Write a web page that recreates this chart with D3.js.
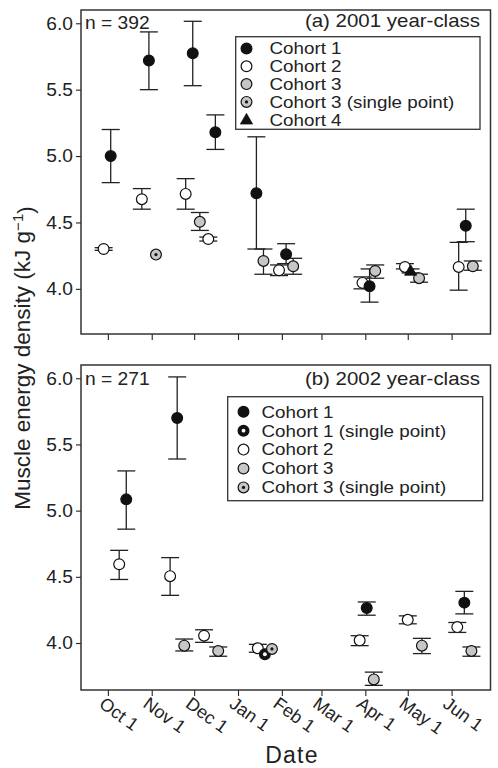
<!DOCTYPE html>
<html>
<head>
<meta charset="utf-8">
<script src="https://cdn.jsdelivr.net/npm/d3@7"></script>
<style>
  html, body { margin: 0; padding: 0; background: #fff; }
  svg { display: block; font-family: "Liberation Sans", Arial, Helvetica, sans-serif; }
</style>
</head>
<body>
<svg id="chart" width="498" height="768"></svg>
<script>
// ---- Data: mean muscle energy density (kJ g^-1) with error limits, by sampling date ----
// 2001 year-class
const a2001Cohort1 = [
  { date: "10-03", mean: 5.00,  lo: 4.80,  hi: 5.20 },
  { date: "10-30", mean: 5.72,  lo: 5.50,  hi: 5.935 },
  { date: "11-30", mean: 5.775, lo: 5.53,  hi: 6.015 },
  { date: "12-16", mean: 5.18,  lo: 5.05,  hi: 5.31 },
  { date: "01-14", mean: 4.72,  lo: 4.30,  hi: 5.145 },
  { date: "02-04", mean: 4.26,  lo: 4.19,  hi: 4.34 },
  { date: "04-04", mean: 4.02,  lo: 3.90,  hi: 4.15 },
  { date: "06-11", mean: 4.475, lo: 4.355, hi: 4.60 }
];
const a2001Cohort2 = [
  { date: "09-28", mean: 4.30,  lo: 4.29,  hi: 4.31 },
  { date: "10-25", mean: 4.675, lo: 4.60,  hi: 4.755 },
  { date: "11-25", mean: 4.715, lo: 4.60,  hi: 4.83 },
  { date: "12-11", mean: 4.375, lo: 4.36,  hi: 4.39 },
  { date: "01-30", mean: 4.14,  lo: 4.10,  hi: 4.18 },
  { date: "03-30", mean: 4.045, lo: 4.00,  hi: 4.09 },
  { date: "04-29", mean: 4.165, lo: 4.15,  hi: 4.19 },
  { date: "06-06", mean: 4.165, lo: 3.99,  hi: 4.35 }
];
const a2001Cohort3 = [
  { date: "12-05", mean: 4.505, lo: 4.44,  hi: 4.575 },
  { date: "01-19", mean: 4.21,  lo: 4.11,  hi: 4.30 },
  { date: "02-09", mean: 4.17,  lo: 4.11,  hi: 4.23 },
  { date: "04-08", mean: 4.135, lo: 4.08,  hi: 4.18 },
  { date: "05-09", mean: 4.08,  lo: 4.05,  hi: 4.11 },
  { date: "06-16", mean: 4.17,  lo: 4.14,  hi: 4.21 }
];
const a2001Cohort3Single = [
  { date: "11-04", mean: 4.258 }
];
const a2001Cohort4 = [
  { date: "05-03", mean: 4.135, lo: 4.12,  hi: 4.15 }
];

// 2002 year-class
const b2002Cohort1 = [
  { date: "10-14", mean: 5.085, lo: 4.86,  hi: 5.30 },
  { date: "11-19", mean: 5.70,  lo: 5.39,  hi: 6.01 },
  { date: "04-02", mean: 4.265, lo: 4.21,  hi: 4.31 },
  { date: "06-10", mean: 4.305, lo: 4.22,  hi: 4.39 }
];
const b2002Cohort1Single = [
  { date: "01-20", mean: 3.915 }
];
const b2002Cohort2 = [
  { date: "10-09", mean: 4.595, lo: 4.48,  hi: 4.70 },
  { date: "11-14", mean: 4.505, lo: 4.36,  hi: 4.645 },
  { date: "12-08", mean: 4.055, lo: 4.005, hi: 4.10 },
  { date: "01-15", mean: 3.96,  lo: 3.93,  hi: 3.99 },
  { date: "03-28", mean: 4.02,  lo: 3.98,  hi: 4.055 },
  { date: "05-01", mean: 4.175, lo: 4.145, hi: 4.205 },
  { date: "06-05", mean: 4.12,  lo: 4.08,  hi: 4.155 }
];
const b2002Cohort3 = [
  { date: "11-24", mean: 3.98,  lo: 3.94,  hi: 4.03 },
  { date: "12-18", mean: 3.94,  lo: 3.90,  hi: 3.97 },
  { date: "04-07", mean: 3.725, lo: 3.68,  hi: 3.78 },
  { date: "05-11", mean: 3.98,  lo: 3.92,  hi: 4.035 },
  { date: "06-15", mean: 3.94,  lo: 3.90,  hi: 3.97 }
];
const b2002Cohort3Single = [
  { date: "01-25", mean: 3.955 }
];

// Axis ticks
const monthTickDates = ["10-01", "11-01", "12-01", "01-01", "02-01", "03-01", "04-01", "05-01", "06-01"];
const monthTickLabels = ["Oct 1", "Nov 1", "Dec 1", "Jan 1", "Feb 1", "Mar 1", "Apr 1", "May 1", "Jun 1"];
const energyTicks = [4.0, 4.5, 5.0, 5.5, 6.0];

// Seasons run Sep-Jun; place autumn months in the first year, the rest in the next.
function seasonDate(md) {
  const [m, d] = md.split("-").map(Number);
  return new Date(m >= 8 ? 2001 : 2002, m - 1, d, 12);
}

const svg = d3.select("#chart");
const INK = "#222";
const GREY = "#c6c6c6";
const left = 81, right = 490.5;

const x = d3.scaleTime()
  .domain([new Date(2001, 8, 12, 12), new Date(2002, 5, 29, 0)])
  .range([left, right]);

// Text set in a slightly wide face: drawn at (px, py) and stretched horizontally.
function wideText(g, px, py, str, size, stretch, anchor) {
  return g.append("text")
    .attr("transform", `translate(${px},${py}) scale(${stretch},1)`)
    .attr("text-anchor", anchor || "start")
    .attr("font-size", size).attr("fill", INK)
    .text(str);
}

function drawMarker(g, kind, cx, cy) {
  const r = 5.4;
  if (kind === "triangle") {
    g.append("path")
      .attr("d", d3.symbol().type(d3.symbolTriangle).size(64)())
      .attr("transform", `translate(${cx},${cy + 0.8})`)
      .attr("fill", "#111").attr("stroke", "#111").attr("stroke-width", 0.8);
    return;
  }
  const fill = kind === "filled" || kind === "filledSingle" ? "#111"
             : kind === "open" ? "#fff" : GREY;
  g.append("circle").attr("cx", cx).attr("cy", cy).attr("r", r)
    .attr("fill", fill).attr("stroke", "#111").attr("stroke-width", 1.2);
  if (kind === "greySingle") {
    g.append("circle").attr("cx", cx).attr("cy", cy).attr("r", 1.6).attr("fill", "#111");
  }
  if (kind === "filledSingle") {
    g.append("circle").attr("cx", cx).attr("cy", cy).attr("r", 1.9).attr("fill", "#fff");
  }
}

function drawPanel(cfg) {
  const { top, bottom, yDomain, series, title, nText, nDy, titleDy, legend, showDates } = cfg;
  const y = d3.scaleLinear().domain(yDomain).range([bottom, top]);
  const g = svg.append("g");

  // y axis
  const yAxis = g.append("g").attr("transform", `translate(${left},0)`)
    .call(d3.axisLeft(y).tickValues(energyTicks).tickFormat("").tickSize(5));
  yAxis.select(".domain").remove();
  yAxis.selectAll("line").attr("stroke", INK).attr("stroke-width", 1.1);
  energyTicks.forEach(v => {
    wideText(g, left - 8, y(v), d3.format(".1f")(v), 17.6, 1.09, "end").attr("dy", "0.36em");
  });

  // x axis
  const xAxis = g.append("g").attr("transform", `translate(0,${bottom})`)
    .call(d3.axisBottom(x).tickValues(monthTickDates.map(seasonDate))
      .tickFormat("").tickSize(6));
  xAxis.select(".domain").remove();
  xAxis.selectAll("line").attr("stroke", INK).attr("stroke-width", 1.1);

  if (showDates) {
    g.append("g").selectAll("text")
      .data(monthTickDates.map((d, i) => ({ date: seasonDate(d), label: monthTickLabels[i] })))
      .join("text")
      .attr("transform", d => `translate(${x(d.date) - 1.5},${bottom + 5}) rotate(36)`)
      .attr("dy", "0.78em")
      .attr("font-size", 18)
      .attr("fill", INK)
      .text(d => d.label);
  }

  // frame
  g.append("rect").attr("x", left).attr("y", top)
    .attr("width", right - left).attr("height", bottom - top)
    .attr("fill", "none").attr("stroke", "#333").attr("stroke-width", 1.5);

  // error bars
  const cap = 9;
  series.forEach(s => {
    s.data.filter(d => d.lo !== undefined).forEach(d => {
      const cx = x(seasonDate(d.date));
      const eg = g.append("g").attr("stroke", INK).attr("stroke-width", 1.3);
      eg.append("line").attr("x1", cx).attr("x2", cx).attr("y1", y(d.lo)).attr("y2", y(d.hi));
      eg.append("line").attr("x1", cx - cap).attr("x2", cx + cap).attr("y1", y(d.lo)).attr("y2", y(d.lo));
      eg.append("line").attr("x1", cx - cap).attr("x2", cx + cap).attr("y1", y(d.hi)).attr("y2", y(d.hi));
    });
  });

  // points
  series.forEach(s => {
    s.data.forEach(d => drawMarker(g, s.kind, x(seasonDate(d.date)), y(d.mean)));
  });

  // panel texts
  wideText(g, left + 4, top + nDy, nText, 17.8, 1.08);
  wideText(g, 480, top + titleDy, title, 17.8, 1.15, "end");

  // legend
  const lg = g.append("g");
  lg.append("rect").attr("x", legend.x0).attr("y", legend.y0)
    .attr("width", legend.x1 - legend.x0).attr("height", legend.y1 - legend.y0)
    .attr("fill", "#fff").attr("stroke", "#333").attr("stroke-width", 1.3);
  legend.items.forEach((it, i) => {
    const cy = legend.firstY + i * legend.step;
    drawMarker(lg, it.kind, legend.markerX, cy);
    wideText(lg, legend.textX, cy, it.label, 16.2, 1.16).attr("dy", "0.36em");
  });
}

drawPanel({
  top: 10, bottom: 334, yDomain: [3.66, 6.1],
  title: "(a) 2001 year-class", nText: "n = 392", nDy: 19, titleDy: 16.5, showDates: false,
  series: [
    { kind: "open", data: a2001Cohort2 },
    { kind: "filled", data: a2001Cohort1 },
    { kind: "grey", data: a2001Cohort3 },
    { kind: "greySingle", data: a2001Cohort3Single },
    { kind: "triangle", data: a2001Cohort4 }
  ],
  legend: {
    x0: 235.7, y0: 36.7, x1: 480, y1: 129.3, markerX: 246.5, textX: 269.5,
    firstY: 48.5, step: 17.8,
    items: [
      { kind: "filled", label: "Cohort 1" },
      { kind: "open", label: "Cohort 2" },
      { kind: "grey", label: "Cohort 3" },
      { kind: "greySingle", label: "Cohort 3 (single point)" },
      { kind: "triangle", label: "Cohort 4" }
    ]
  }
});

drawPanel({
  top: 365, bottom: 690, yDomain: [3.645, 6.1],
  title: "(b) 2002 year-class", nText: "n = 271", nDy: 19.5, titleDy: 19.5, showDates: true,
  series: [
    { kind: "open", data: b2002Cohort2 },
    { kind: "filled", data: b2002Cohort1 },
    { kind: "filledSingle", data: b2002Cohort1Single },
    { kind: "grey", data: b2002Cohort3 },
    { kind: "greySingle", data: b2002Cohort3Single }
  ],
  legend: {
    x0: 227.7, y0: 396.7, x1: 482.7, y1: 500.7, markerX: 243.5, textX: 261.5,
    firstY: 411.8, step: 18.9,
    items: [
      { kind: "filled", label: "Cohort 1" },
      { kind: "filledSingle", label: "Cohort 1 (single point)" },
      { kind: "open", label: "Cohort 2" },
      { kind: "grey", label: "Cohort 3" },
      { kind: "greySingle", label: "Cohort 3 (single point)" }
    ]
  }
});

// axis titles
svg.append("text")
  .attr("transform", "translate(30,358) rotate(-90)")
  .attr("text-anchor", "middle").attr("font-size", 22.5).attr("fill", INK)
  .call(t => {
    t.append("tspan").text("Muscle energy density (kJ g");
    t.append("tspan").attr("dy", "-0.45em").attr("font-size", 15).text("\u22121");
    t.append("tspan").attr("dy", "0.45em").text(")");
  });

svg.append("text")
  .attr("x", 292).attr("y", 763).attr("text-anchor", "middle")
  .attr("font-size", 23).attr("letter-spacing", 1.2).attr("fill", INK)
  .text("Date");
</script>
</body>
</html>
